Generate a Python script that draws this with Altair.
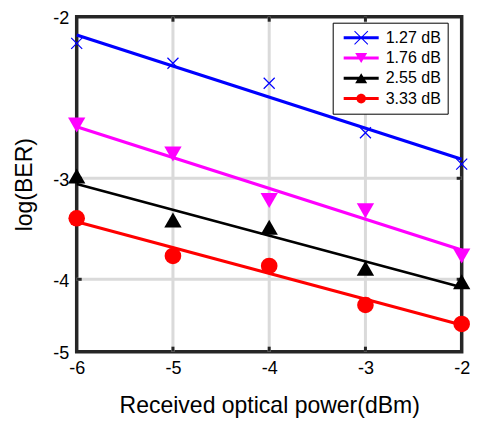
import altair as alt
import pandas as pd

# ---- data ----
x_power = [-6, -5, -4, -3, -2]
series = ["1.27 dB", "1.76 dB", "2.55 dB", "3.33 dB"]
ber_127 = [-2.165, -2.288, -2.412, -2.718, -2.912]
ber_176 = [-2.670, -2.850, -3.220, -3.321, -3.769]
ber_255 = [-2.986, -3.413, -3.485, -3.891, -4.033]
ber_333 = [-3.396, -3.769, -3.868, -4.355, -4.617]
fit_x = [-6, -2]
fit_127 = [-2.113, -2.882]
fit_176 = [-2.681, -3.710]
fit_255 = [-3.056, -4.110]
fit_333 = [-3.430, -4.631]
x_ticks = [-6, -5, -4, -3, -2]
y_ticks = [-2, -3, -4, -5]
x_grid = [-5, -4, -3]
y_grid = [-3, -4]

colors = ["#0000ff", "#ff00ff", "#000000", "#ff0000"]
W, H = 385, 335
FONT = "Liberation Sans"

# y axis is non-uniform in the reference (piecewise)
y_scale = alt.Scale(domain=[-5, -4, -3, -2], range=[H, H - 72.4, H - 173.4, 0],
                    nice=False, zero=False)
x_scale = alt.Scale(domain=[-6, -2], nice=False, zero=False)

X = alt.X("x:Q", scale=x_scale,
          axis=alt.Axis(values=x_ticks, title="Received optical power(dBm)",
                        grid=False, domain=False, ticks=False, tickSize=0,
                        labelPadding=8, titlePadding=17, labelFlush=False,
                        labelOverlap=False, labelExpr="datum.value + ''"))
Y = alt.Y("y:Q", scale=y_scale,
          axis=alt.Axis(values=y_ticks, title="log(BER)", grid=False, domain=False,
                        ticks=False, tickSize=0, labelPadding=8, titlePadding=16,
                        labelFlush=False, labelOverlap=False, labelOffset=2,
                        labelExpr="datum.value + ''"))

ber_all = [ber_127, ber_176, ber_255, ber_333]
fit_all = [fit_127, fit_176, fit_255, fit_333]

# grid lines and inward ticks
grid_x = alt.Chart(pd.DataFrame({"x": x_grid})).mark_rule(
    color="#dadada", strokeWidth=3).encode(x=alt.X("x:Q", scale=x_scale))
grid_y = alt.Chart(pd.DataFrame({"y": y_grid})).mark_rule(
    color="#dadada", strokeWidth=3).encode(y=alt.Y("y:Q", scale=y_scale))
tk = dict(color="#262626", strokeWidth=3)
tick_top = alt.Chart(pd.DataFrame({"x": x_grid})).mark_rule(**tk).encode(
    x=alt.X("x:Q", scale=x_scale), y=alt.value(0), y2=alt.value(5))
tick_bot = alt.Chart(pd.DataFrame({"x": x_grid})).mark_rule(**tk).encode(
    x=alt.X("x:Q", scale=x_scale), y=alt.value(H - 5), y2=alt.value(H))
tick_left = alt.Chart(pd.DataFrame({"y": y_grid})).mark_rule(**tk).encode(
    y=alt.Y("y:Q", scale=y_scale), x=alt.value(0), x2=alt.value(5))
tick_right = alt.Chart(pd.DataFrame({"y": y_grid})).mark_rule(**tk).encode(
    y=alt.Y("y:Q", scale=y_scale), x=alt.value(W - 5), x2=alt.value(W))

layers = [grid_x, grid_y, tick_top, tick_bot, tick_left, tick_right]

# axes carrier (labels + titles)
axes = alt.Chart(pd.DataFrame({"x": fit_x, "y": fit_127})).mark_point(opacity=0).encode(x=X, y=Y)
layers.append(axes)

# fit lines
widths = [3.2, 3.2, 2.6, 3.0]
for s, fy, c, w in zip(series, fit_all, colors, widths):
    df = pd.DataFrame({"x": fit_x, "y": fy})
    layers.append(alt.Chart(df).mark_line(color=c, strokeWidth=w).encode(
        x=alt.X("x:Q", scale=x_scale), y=alt.Y("y:Q", scale=y_scale)))

# markers
marker_shapes = ["M-1,-1L1,1M-1,1L1,-1", "triangle-down", "triangle-up", "circle"]
marker_sizes = [121, 300, 300, 275]
for s, by, c, shp, sz in zip(series, ber_all, colors, marker_shapes, marker_sizes):
    df = pd.DataFrame({"x": x_power, "y": by})
    if s == "1.27 dB":
        mk = alt.Chart(df).mark_point(shape=shp, size=sz, filled=False, stroke=c,
                                      strokeWidth=1.2, opacity=1)
    else:
        mk = alt.Chart(df).mark_point(shape=shp, size=sz, filled=True, fill=c,
                                      strokeWidth=0, opacity=1)
    layers.append(mk.encode(x=alt.X("x:Q", scale=x_scale), y=alt.Y("y:Q", scale=y_scale)))

# legend carrier (invisible marks, legend symbols = line + marker)
line_rect = "M-0.778,-0.067L0.778,-0.067L0.778,0.067L-0.778,0.067Z"
leg_shapes = [
    line_rect + "M-0.280,-0.312L0.312,0.280L0.280,0.312L-0.312,-0.280Z"
    + "M-0.312,0.280L0.280,-0.312L0.312,-0.280L-0.280,0.312Z",
    line_rect + "M-0.267,-0.222L0.267,-0.222L0,0.222Z",
    line_rect + "M0,-0.222L0.267,0.222L-0.267,0.222Z",
    line_rect + "M-0.213,0A0.213,0.213 0 1,1 0.213,0A0.213,0.213 0 1,1 -0.213,0Z",
]
leg_df = pd.DataFrame({"x": [-6] * 4, "y": [-2] * 4, "series": series})
legend = alt.Legend(title=None, orient="none", legendX=256, legendY=6,
                    symbolSize=2025, clipHeight=18, rowPadding=2.3,
                    symbolStrokeWidth=0, symbolOpacity=1, labelFontSize=16,
                    labelFont=FONT, labelColor="black", labelOffset=2,
                    labelExpr="datum.label + '    '", labelLimit=300,
                    padding=6, strokeColor="black", fillColor="white")
leg_layer = alt.Chart(leg_df).mark_point(filled=True, opacity=0, size=1).encode(
    x=alt.X("x:Q", scale=x_scale), y=alt.Y("y:Q", scale=y_scale),
    color=alt.Color("series:N", sort=series, scale=alt.Scale(domain=series, range=colors),
                    legend=legend),
    shape=alt.Shape("series:N", sort=series, scale=alt.Scale(domain=series, range=leg_shapes),
                    legend=legend),
)
layers.append(leg_layer)

chart = alt.layer(*layers).properties(
    width=W, height=H,
    autosize=alt.AutoSizeParams(type="none"),
    padding={"left": 68.7, "top": 8.7, "right": 10, "bottom": 72},
).configure_view(
    stroke="#262626", strokeWidth=3.5
).configure_axis(
    labelFont=FONT, titleFont=FONT, labelFontSize=18, titleFontSize=23,
    labelColor="black", titleColor="black", titleFontWeight="normal",
)

chart.save("out.html", embed_options={"renderer": "svg", "actions": False})
